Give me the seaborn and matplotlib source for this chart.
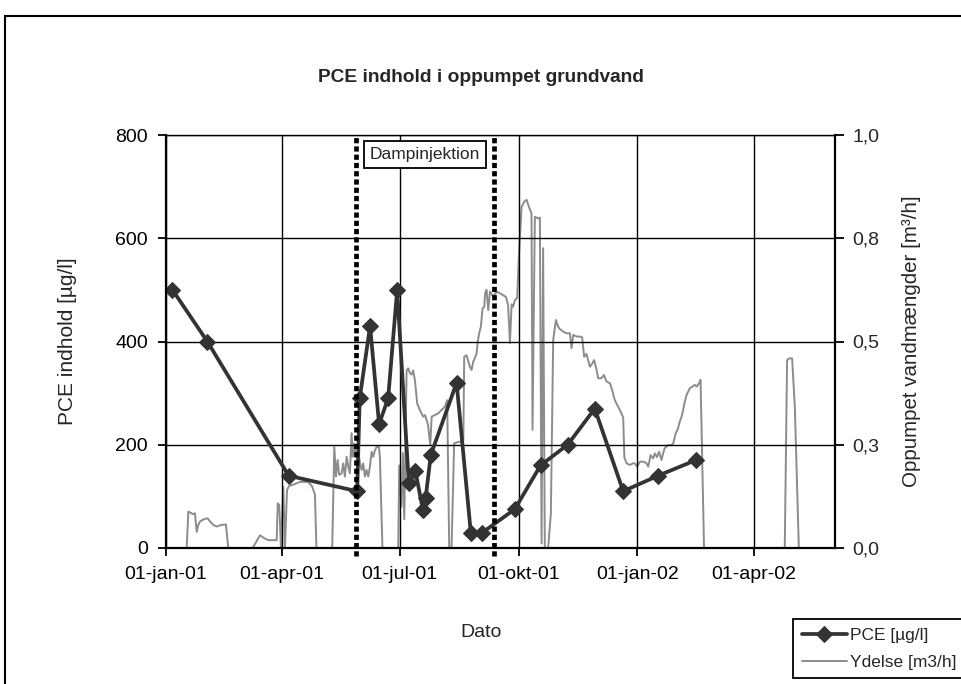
import matplotlib
matplotlib.use("Agg")
import matplotlib.pyplot as plt
import seaborn as sns
import pandas as pd
from matplotlib.patches import Rectangle

sns.set_style("white")
plt.rcParams["font.family"] = ["Liberation Sans", "DejaVu Sans"]

# ---------------- data ----------------
pce_dates = ["2001-01-06", "2001-02-02", "2001-04-06", "2001-05-29", "2001-05-31",
             "2001-06-08", "2001-06-15", "2001-06-22", "2001-06-29", "2001-07-08",
             "2001-07-13", "2001-07-19", "2001-07-21", "2001-07-25", "2001-08-14",
             "2001-08-25", "2001-09-03", "2001-09-28", "2001-10-18", "2001-11-08",
             "2001-11-29", "2001-12-21", "2002-01-17", "2002-02-15"]
pce_values = [500, 400, 140, 110, 290, 430, 240, 290, 500, 125, 150, 73, 96, 180,
              320, 30, 30, 75, 160, 200, 270, 110, 140, 170]

# pumped volume: days after 01-jan-01 and m3/h
ydelse_day = [16.0, 17.3, 19.3, 20.7, 22.4, 23.8, 25.0, 26.3, 28.9, 32.3, 34.1, 36.6,
              39.2, 43.1, 46.4, 48.2, 67.1, 72.8, 74.5, 76.6, 79.2, 85.7, 86.5, 87.7,
              89.0, 90.8, 92.1, 93.7, 95.2, 99.8, 103.7, 109.9, 113.0, 115.3, 116.5,
              128.7, 130.3, 131.6, 132.9, 134.1, 136.0, 137.2, 138.5, 139.9, 141.1,
              142.4, 143.7, 144.5, 145.5, 147.1, 148.8, 150.2, 151.5, 152.7, 154.0,
              155.3, 156.6, 157.9, 159.2, 160.4, 161.8, 163.1, 164.9, 165.6, 167.6,
              179.8, 180.6, 182.3, 183.4, 184.5, 186.3, 187.5, 188.9, 190.2, 191.4,
              192.7, 194.5, 196.6, 199.1, 200.5, 201.8, 202.8, 204.6, 205.7, 208.2,
              210.8, 213.4, 215.9, 217.7, 219.3, 221.1, 223.1, 226.2, 228.9, 230.2,
              230.9, 232.7, 235.3, 236.6, 237.8, 240.5, 241.2, 242.5, 243.8, 245.1,
              246.4, 247.1, 248.2, 249.5, 250.8, 253.1, 256.2, 258.5, 261.1, 263.2,
              264.9, 266.3, 267.6, 268.8, 270.1, 271.9, 273.2, 275.3, 277.3, 279.2,
              281.0, 283.0, 283.8, 285.6, 288.2, 289.5, 290.8, 292.0, 293.3, 295.9,
              298.0, 299.8, 301.9, 303.6, 305.0, 307.5, 310.1, 312.7, 314.0, 315.3,
              317.9, 320.4, 322.2, 323.8, 325.6, 328.2, 329.7, 331.5, 333.4, 334.6,
              337.2, 339.0, 341.1, 343.7, 345.4, 347.5, 351.4, 354.0, 354.9, 356.6,
              359.2, 361.5, 363.0, 364.8, 366.9, 370.0, 372.1, 373.4, 375.2, 377.2,
              378.5, 380.2, 381.8, 383.7, 384.9, 386.2, 388.8, 391.4, 392.7, 394.7,
              396.5, 397.8, 399.2, 400.4, 401.7, 403.0, 405.6, 407.7, 409.4, 411.0,
              412.8, 413.9, 416.6, 479.1, 480.9, 482.4, 484.8, 486.9, 490.0]
ydelse_m3h = [0.0, 0.088, 0.085, 0.082, 0.084, 0.039, 0.056, 0.064, 0.069, 0.072, 0.064, 0.056,
              0.052, 0.056, 0.057, 0.0, 0.0, 0.031, 0.027, 0.023, 0.019, 0.019, 0.108, 0.104,
              0.0, 0.148, 0.0, 0.14, 0.15, 0.155, 0.16, 0.16, 0.15, 0.13, 0.0,
              0.0, 0.245, 0.173, 0.213, 0.177, 0.181, 0.205, 0.173, 0.221, 0.197,
              0.181, 0.278, 0.221, 0.253, 0.22, 0.237, 0.205, 0.189, 0.205, 0.173,
              0.189, 0.173, 0.197, 0.233, 0.221, 0.237, 0.245, 0.245, 0.221, 0.0,
              0.0, 0.20, 0.10, 0.23, 0.07, 0.43, 0.435, 0.423, 0.42, 0.43,
              0.407, 0.35, 0.334, 0.318, 0.322, 0.31, 0.30, 0.25, 0.318, 0.322,
              0.326, 0.334, 0.342, 0.358, 0.0, 0.0, 0.253, 0.257, 0.257, 0.26,
              0.463, 0.467, 0.439, 0.431, 0.45, 0.471, 0.496, 0.520, 0.536, 0.580,
              0.584, 0.617, 0.625, 0.576, 0.621, 0.61, 0.62, 0.617, 0.612, 0.608,
              0.588, 0.496, 0.590, 0.584, 0.600, 0.605, 0.705, 0.826, 0.838, 0.843,
              0.826, 0.810, 0.286, 0.802, 0.798, 0.80, 0.011, 0.726, 0.0, 0.0,
              0.084, 0.504, 0.552, 0.536, 0.53, 0.524, 0.520, 0.520, 0.484, 0.516,
              0.512, 0.512, 0.51, 0.463, 0.47, 0.439, 0.445, 0.455, 0.431, 0.411,
              0.411, 0.419, 0.403, 0.399, 0.383, 0.358, 0.334, 0.316, 0.22, 0.205,
              0.201, 0.205, 0.205, 0.197, 0.209, 0.209, 0.205, 0.197, 0.225, 0.217,
              0.229, 0.22, 0.233, 0.213, 0.229, 0.242, 0.249, 0.249, 0.253, 0.278,
              0.290, 0.306, 0.318, 0.334, 0.354, 0.370, 0.387, 0.391, 0.395, 0.391,
              0.399, 0.407, 0.0, 0.0, 0.455, 0.459, 0.459, 0.342, 0.0]

x_tick_dates = ["2001-01-01", "2001-04-01", "2001-07-01", "2001-10-01", "2002-01-01", "2002-04-01"]
x_tick_labels = ["01-jan-01", "01-apr-01", "01-jul-01", "01-okt-01", "01-jan-02", "01-apr-02"]
left_ticks = [0, 200, 400, 600, 800]
right_ticks = [0.0, 0.25, 0.5, 0.75, 1.0]
right_tick_labels = ["0,0", "0,3", "0,5", "0,8", "1,0"]
steam_period = ["2001-05-28", "2001-09-12"]
x_range = ["2001-01-01", "2002-06-03"]

# ---------------- frames ----------------
origin = pd.Timestamp("2001-01-01")
pce_df = pd.DataFrame({"Dato": pd.to_datetime(pce_dates), "PCE": pce_values})
yd_df = pd.DataFrame({"Dato": origin + pd.to_timedelta(ydelse_day, unit="D"),
                      "Ydelse": ydelse_m3h})

W, H = 961, 684
fig = plt.figure(figsize=(W / 100, H / 100), dpi=100)
ax = fig.add_axes([166 / W, 1 - 548 / H, 669 / W, 413 / H])
ax2 = ax.twinx()
ax.set_zorder(ax2.get_zorder() + 1)
ax.patch.set_visible(False)

sns.lineplot(data=yd_df, x="Dato", y="Ydelse", ax=ax2, color="#8c8c8c", linewidth=1.4,
             estimator=None, sort=False)
sns.lineplot(data=pce_df, x="Dato", y="PCE", ax=ax, color="#333333", linewidth=2.7,
             marker="D", markersize=8, markeredgecolor="#333333", estimator=None, sort=False)

ax.set_xlim(pd.Timestamp(x_range[0]), pd.Timestamp(x_range[1]))
ax.set_ylim(0, 800)
ax2.set_ylim(0, 1.0)

ax.set_xticks(pd.to_datetime(x_tick_dates))
ax.set_xticklabels(x_tick_labels)
ax.set_yticks(left_ticks)
ax.set_yticklabels([str(v) for v in left_ticks])
ax2.set_yticks(right_ticks)
ax2.set_yticklabels(right_tick_labels)

ax.grid(True, color="black", linewidth=1.0)
ax2.grid(False)

for s in ["left", "bottom"]:
    ax.spines[s].set_visible(True)
    ax.spines[s].set_color("black")
    ax.spines[s].set_linewidth(1.6)
ax.spines["top"].set_visible(True)
ax.spines["top"].set_color("black")
ax.spines["top"].set_linewidth(1.0)
ax.spines["right"].set_visible(False)
for s in ["left", "bottom", "top"]:
    ax2.spines[s].set_visible(False)
ax2.spines["right"].set_visible(True)
ax2.spines["right"].set_color("black")
ax2.spines["right"].set_linewidth(1.6)

FS = 14
ax.tick_params(axis="both", direction="out", length=6, width=1.3, color="black",
               labelsize=FS, labelcolor="black")
ax.tick_params(axis="x", pad=7, bottom=True, top=False)
ax.tick_params(axis="y", pad=7, left=True, right=False)
ax2.tick_params(axis="y", direction="out", length=6.5, width=1.3, color="black",
                labelsize=FS, pad=6, right=True)

ax.set_xlabel("Dato", fontsize=FS)
ax.xaxis.set_label_coords(0.471, -0.205)
ax.xaxis.label.set_va("center")
ax.set_ylabel("PCE indhold [µg/l]", fontsize=15)
ax.yaxis.set_label_coords(-0.1465, 0.5)
ax.yaxis.label.set_va("center")
ax2.set_ylabel("Oppumpet vandmængder [m³/h]", fontsize=14.8)
ax2.yaxis.set_label_coords(1.115, 0.5)
ax2.yaxis.label.set_va("center")

# steam injection period
for d in steam_period:
    ax.axvline(pd.Timestamp(d), ymin=-0.02, ymax=1.0, color="black", linewidth=3.4,
               linestyle=(0, (1.1, 0.65)), clip_on=False, zorder=3)
mid = pd.Timestamp(steam_period[0]) + (pd.Timestamp(steam_period[1]) - pd.Timestamp(steam_period[0])) / 2
ax.text(mid, 762, "Dampinjektion", ha="center", va="center", fontsize=12.5, zorder=4,
        bbox=dict(boxstyle="square,pad=0.35", facecolor="white", edgecolor="black", linewidth=1.3))

fig.text(481 / W, 1 - 77 / H, "PCE indhold i oppumpet grundvand", ha="center", va="center",
         fontsize=13.8, fontweight="bold")

fig.add_artist(Rectangle((5 / W, -0.1), 1.2, 1.1 - 16 / H, transform=fig.transFigure,
                         fill=False, edgecolor="black", linewidth=1.5))

leg = fig.legend(handles=[ax.lines[0], ax2.lines[0]], labels=["PCE [µg/l]", "Ydelse [m3/h]"],
                 loc="upper left", bbox_to_anchor=(793 / W, 1 - 619 / H), frameon=True,
                 fancybox=False, edgecolor="black", framealpha=1, fontsize=12.5,
                 handlelength=2.6, borderaxespad=0, borderpad=0.5, labelspacing=0.67,
                 handletextpad=0.2)
leg.get_frame().set_linewidth(1.3)

fig.savefig("out.png", dpi=100)
